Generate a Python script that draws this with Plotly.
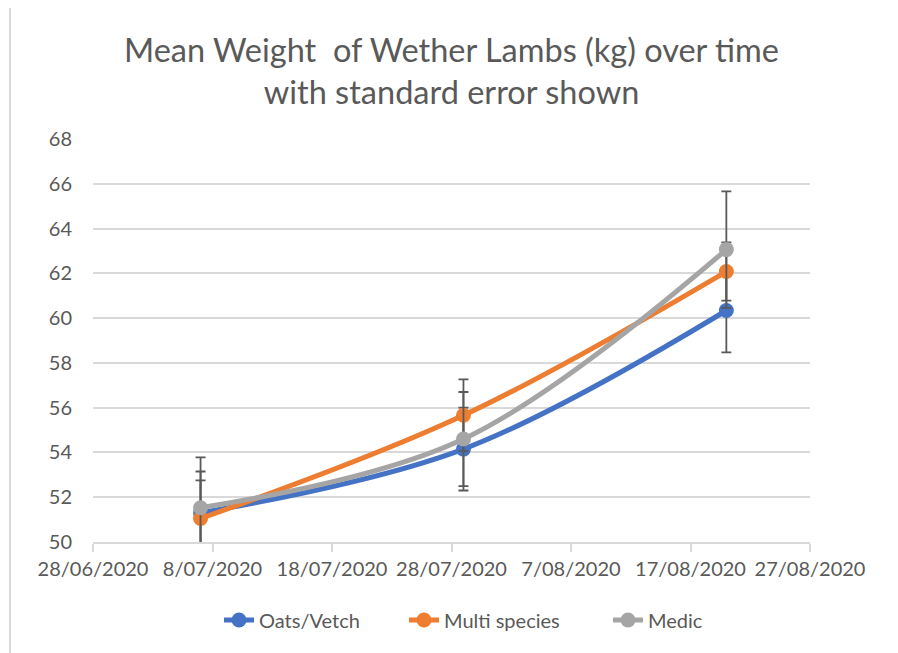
import plotly.graph_objects as go

# ---- data ----
dates = ["2020-07-07", "2020-07-29", "2020-08-20"]
series_names = ["Oats/Vetch", "Multi species", "Medic"]
oats_vetch = [51.3, 54.15, 60.34]
multi_species = [51.05, 55.66, 62.08]
medic = [51.53, 54.6, 63.06]
oats_vetch_se = [1.85, 1.85, 1.87]
multi_species_se = [1.7, 1.6, 1.3]
medic_se = [2.25, 2.1, 2.6]
date_err_days = [1, 1, 1]
y_ticks = [50, 52, 54, 56, 58, 60, 62, 64, 66, 68]
title_text = "Mean Weight  of Wether Lambs (kg) over time<br>with standard error shown"

colors = ["#4472C4", "#ED7D31", "#A5A5A5"]
values = [oats_vetch, multi_species, medic]
ses = [oats_vetch_se, multi_species_se, medic_se]

DAY_MS = 86400000
FONT = "Lato"
TXT = "#595959"

# page body has an 8px margin; plot area target (window px): x 93..810, y 139..542
L, T, PW, PH = 85, 131, 717, 403
W, H = 898, 653

legend_ids = ["legend", "legend2", "legend3"]
legend_text_start = [264, 449, 653]  # window px where legend text begins

fig = go.Figure()
for name, vals, se, col, lid in zip(series_names, values, ses, colors, legend_ids):
    fig.add_trace(go.Scatter(
        x=dates, y=vals, name=name, mode="lines+markers", legend=lid,
        line=dict(color=col, width=5, shape="spline", smoothing=1.0),
        marker=dict(color=col, size=15),
        error_y=dict(type="data", array=se, visible=True, color=TXT,
                     thickness=1.8, width=5),
        error_x=dict(type="data", array=[d * DAY_MS for d in date_err_days],
                     visible=True, color=TXT, thickness=1.8, width=5),
    ))

legend_layouts = {}
for lid, ts in zip(legend_ids, legend_text_start):
    legend_layouts[lid] = dict(
        orientation="h", x=(ts - 138) / PW, xanchor="left",
        y=(542 - 620) / PH, yanchor="middle",
        font=dict(family=FONT, size=20, color=TXT),
        bgcolor="rgba(0,0,0,0)")

fig.update_layout(
    width=W, height=H,
    margin=dict(l=L, r=W - L - PW, t=T, b=H - T - PH),
    paper_bgcolor="white", plot_bgcolor="white",
    font=dict(family=FONT, color=TXT, size=20),
    title=dict(text=title_text, x=0.5, xanchor="center", xref="paper",
               y=1 - 54 / H, yref="container", yanchor="middle",
               font=dict(family=FONT, size=32.5, color=TXT)),
    showlegend=True,
    xaxis=dict(type="date", range=["2020-06-28", "2020-08-27"],
               tick0="2020-06-28", dtick=10 * DAY_MS, tickformat="%-d/%m/%Y",
               showgrid=False, showline=True, linecolor="#D9D9D9", linewidth=1.5,
               ticks="outside", ticklen=8, tickcolor="#D9D9D9", tickwidth=1.5,
               tickfont=dict(family=FONT, size=20, color=TXT), zeroline=False,
               fixedrange=True),
    yaxis=dict(range=[50, 68], tickvals=y_ticks, showgrid=True,
               gridcolor="#D9D9D9", gridwidth=1.5, showline=False, zeroline=False,
               ticks="", ticklabelstandoff=20,
               tickfont=dict(family=FONT, size=20, color=TXT), fixedrange=True),
    shapes=[dict(type="rect", xref="paper", yref="paper",
                 x0=(10 - 93) / PW, x1=(891 - 93) / PW,
                 y0=(542 - 680) / PH, y1=1 + (139 - 5) / PH,
                 line=dict(color="#D9D9D9", width=2), layer="below")],
    **legend_layouts,
)

fig.write_html("out.html")
